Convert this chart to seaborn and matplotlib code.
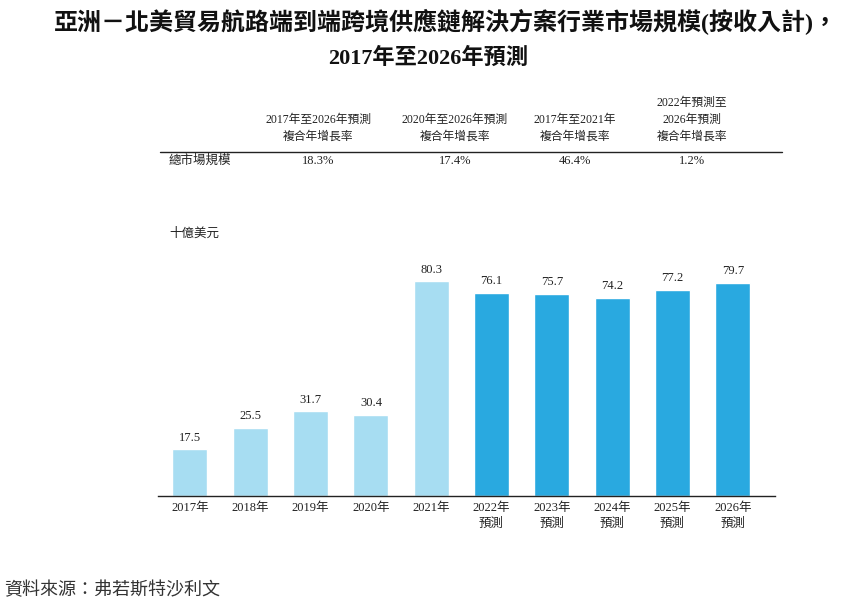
import matplotlib
matplotlib.use("Agg")
import matplotlib.pyplot as plt
from matplotlib.lines import Line2D
import pandas as pd
import seaborn as sns

# chart data
years = ["2017年", "2018年", "2019年", "2020年", "2021年",
         "2022年\n預測", "2023年\n預測", "2024年\n預測", "2025年\n預測", "2026年\n預測"]
market_size = [17.5, 25.5, 31.7, 30.4, 80.3, 76.1, 75.7, 74.2, 77.2, 79.7]
period = ["歷史"] * 5 + ["預測"] * 5

cagr_headers = ["2017年至2026年預測\n複合年增長率", "2020年至2026年預測\n複合年增長率",
                "2017年至2021年\n複合年增長率", "2022年預測至\n2026年預測\n複合年增長率"]
cagr_values = ["18.3%", "17.4%", "46.4%", "1.2%"]
row_label = "總市場規模"

title_1 = "亞洲－北美貿易航路端到端跨境供應鏈解決方案行業市場規模(按收入計)，"
title_2 = "2017年至2026年預測"
unit = "十億美元"
source = "資料來源：弗若斯特沙利文"

sns.set_theme(style="white")
FONTS = ["Liberation Serif", "Noto Sans CJK TC", "DejaVu Sans"]
plt.rcParams["font.family"] = FONTS

W, H = 854, 616


def fx(px):
    return px / W


def fy(py):
    return 1 - py / H


fig = plt.figure(figsize=(W / 100, H / 100), dpi=100)
ax = fig.add_axes([fx(158), fy(496), (775 - 158) / W, (496 - 250) / H])

df = pd.DataFrame({"year": years, "value": market_size, "period": period})
sns.barplot(data=df, x="year", y="value", hue="period", dodge=False,
            palette={"歷史": "#A7DDF2", "預測": "#29A9E0"}, width=0.58,
            saturation=1, legend=False, ax=ax)

for cont in ax.containers:
    ax.bar_label(cont, fmt="%.1f", padding=4, fontsize=9, color="#222222")

ax.set_ylim(0, 92)
ax.set_xlim(-0.53, 9.7)
ax.set_xlabel("")
ax.set_ylabel("")
ax.set_yticks([])
ax.tick_params(axis="x", length=0, labelsize=9, colors="#222222", pad=4)
for lab in ax.get_xticklabels():
    lab.set_linespacing(1.45)
for s in ["top", "right", "left"]:
    ax.spines[s].set_visible(False)
ax.spines["bottom"].set_color("#222222")
ax.spines["bottom"].set_linewidth(1.0)

# title, two lines
fig.text(fx(446), fy(22), title_1, ha="center", va="center", fontsize=17.3,
         fontweight="bold", color="#111111")
fig.text(fx(428), fy(58), title_2, ha="center", va="center", fontsize=16,
         fontweight="bold", color="#111111")

# CAGR table
col_x = [318, 455, 575, 692]
for x, head, val in zip(col_x, cagr_headers, cagr_values):
    fig.text(fx(x), fy(143), head, ha="center", va="bottom", fontsize=8.5,
             linespacing=1.55, color="#222222")
    fig.text(fx(x), fy(161), val, ha="center", va="center", fontsize=9,
             color="#222222")
fig.text(fx(169), fy(161), row_label, ha="left", va="center", fontsize=9,
         color="#222222")
fig.add_artist(Line2D([fx(160), fx(782)], [fy(152), fy(152)],
                      color="#222222", linewidth=1.0))

fig.text(fx(169), fy(234), unit, ha="left", va="center", fontsize=9,
         color="#222222")
fig.text(fx(4), fy(591), source, ha="left", va="center", fontsize=13,
         style="italic", color="#333333")

fig.savefig("out.png", dpi=100)
plt.close(fig)
